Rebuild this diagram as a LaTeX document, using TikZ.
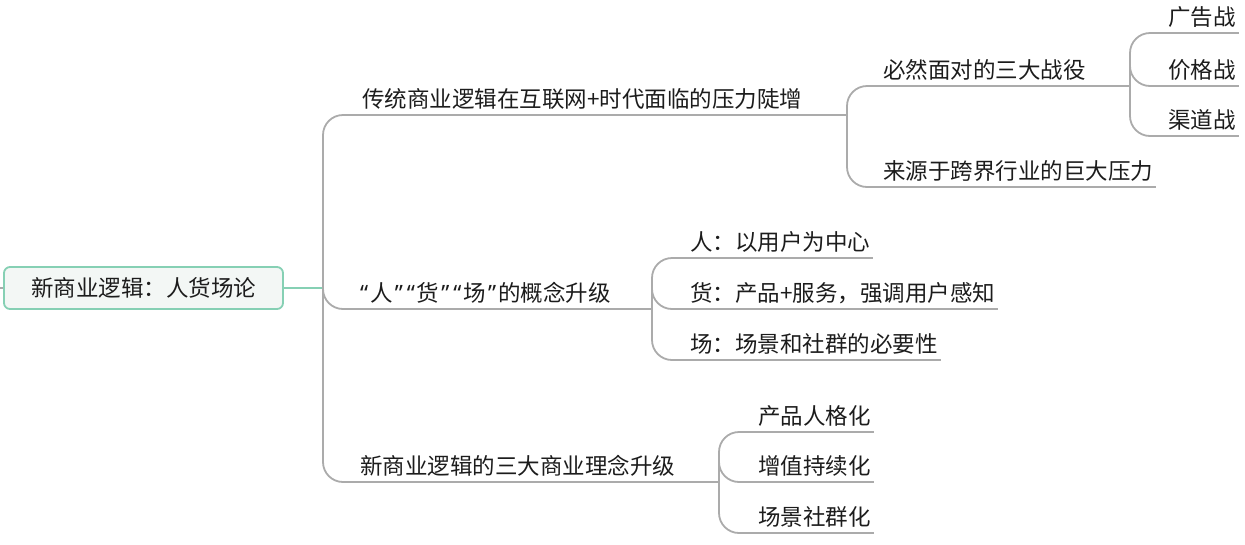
\documentclass[tikz,border=0pt]{standalone}
\usepackage{fontspec}
\setmainfont{Noto Sans CJK SC}
\newfontfamily\quotefont{Noto Sans}
\newcommand{\oq}{{\kern2pt\quotefont “\kern2pt}}
\newcommand{\cq}{{\kern2pt\quotefont ”\kern2pt}}
\definecolor{linkgray}{HTML}{ABABAB}
\definecolor{rootline}{HTML}{86D0B4}
\definecolor{rootfill}{HTML}{F3F7F5}
\definecolor{inkblack}{HTML}{1C1C1C}
\tikzset{
  link/.style={draw=linkgray, line width=1.8pt},
  topic/.style={anchor=south west, inner xsep=3pt, inner ysep=0pt,
    text depth=7.5pt, text=inkblack, font=\fontsize{22.5}{27}\selectfont},
  roottopic/.style={draw=rootline, fill=rootfill, line width=1.8pt,
    rounded corners=6pt, minimum width=279pt, minimum height=42pt,
    text=inkblack, font=\fontsize{22.5}{27}\selectfont}
}
\begin{document}
\begin{tikzpicture}[x=1pt, y=-1pt]
    \useasboundingbox (0,0) rectangle (1245,544);

    % Root
    \node[roottopic] (root) at (143.5,288) {新商业逻辑：人货场论};
    \coordinate (edge) at (0,288);
    \draw[link] (edge) -- (root.west);

    % Bracket points
    \coordinate (k0) at (323,288);
    \coordinate (k1) at (847,115);
    \coordinate (k11) at (1130,86);
    \coordinate (k2) at (652,309);
    \coordinate (k3) at (719,482);

    % Main branches
    \node[topic] (b1) at (359,115) {传统商业逻辑在互联网+时代面临的压力陡增};
    \node[topic] (b2) at (355,309) {\oq 人\cq\oq 货\cq\oq 场\cq 的概念升级};
    \node[topic] (b3) at (357,482) {新商业逻辑的三大商业理念升级};

    % Second level
    \node[topic] (c11) at (880,86) {必然面对的三大战役};
    \node[topic] (c12) at (880,187) {来源于跨界行业的巨大压力};
    \foreach \name/\y/\txt in {c21/258/人：以用户为中心, c22/309/货：产品+服务，强调用户感知, c23/360/场：场景和社群的必要性}
        \node[topic] (\name) at (687,\y) {\txt};
    \foreach \name/\y/\txt in {c31/432/产品人格化, c32/482/增值持续化, c33/533/场景社群化}
        \node[topic] (\name) at (755,\y) {\txt};

    % Third level
    \foreach \name/\y/\txt in {d1/33/广告战, d2/86/价格战, d3/136/渠道战}
        \node[topic] (\name) at (1165,\y) {\txt};

    % Underlines
    \foreach \n in {b1,b2,b3,c11,c12,c21,c22,c23,c31,c32,c33,d1,d2,d3}
        \draw[link] (\n.south west) -- (\n.south east);

    % Connectors
    \draw[draw=rootline, line width=1.8pt] (root.east) -- (k0);
    \draw[link] (b1.south east) -- (k1);
    \draw[link] (c11.south east) -- (k11);
    \draw[link] (b2.south east) -- (k2);
    \draw[link] (b3.south east) -- (k3);
    \foreach \c in {b1,b2,b3}
        \draw[link, rounded corners=20pt] (k0) |- (\c.south west);
    \foreach \c in {c11,c12}
        \draw[link, rounded corners=20pt] (k1) |- (\c.south west);
    \foreach \c in {d1,d2,d3}
        \draw[link, rounded corners=20pt] (k11) |- (\c.south west);
    \foreach \c in {c21,c22,c23}
        \draw[link, rounded corners=20pt] (k2) |- (\c.south west);
    \foreach \c in {c31,c32,c33}
        \draw[link, rounded corners=20pt] (k3) |- (\c.south west);

\end{tikzpicture}
\end{document}
